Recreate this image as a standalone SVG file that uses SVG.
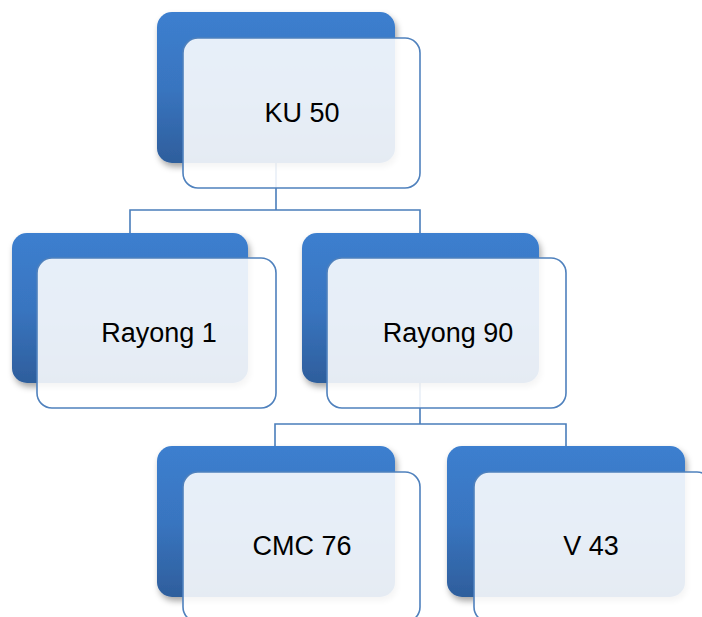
<svg xmlns="http://www.w3.org/2000/svg" width="702" height="617" viewBox="0 0 702 617">
<style>
.back{fill:url(#bg);filter:url(#sh)}
.front{fill:#ffffff;fill-opacity:0.88;stroke:#4f81bd;stroke-width:1.6}
.lbl{font-family:"Liberation Sans",Arial,sans-serif;font-size:27px;fill:#000;text-anchor:middle}
.conn{fill:none;stroke:#4a7ebb;stroke-width:1.6}
</style>
<defs>
<linearGradient id="bg" x1="0" y1="0" x2="0" y2="1">
<stop offset="0" stop-color="#3c7fcf"/>
<stop offset="0.5" stop-color="#3975c0"/>
<stop offset="1" stop-color="#2e5e9c"/>
</linearGradient>
<filter id="sh" x="-10%" y="-10%" width="125%" height="130%">
<feDropShadow dx="2" dy="4" stdDeviation="3" flood-color="#000" flood-opacity="0.35"/>
</filter>
</defs>
<g id="connectors">
<path class="conn" d="M276,163 V210 M130,233 V210 H420 V233"/>
<path class="conn" d="M420,383 V424 M275,446 V424 H566 V446"/>
</g>
<g id="node-ku50">
<rect class="back" x="157" y="12" width="238" height="151" rx="15"/>
<rect class="front" x="183" y="38" width="237" height="150" rx="15"/>
<text class="lbl" x="302" y="122">KU 50</text>
</g>
<g id="node-rayong1">
<rect class="back" x="12" y="233" width="236" height="150" rx="15"/>
<rect class="front" x="37" y="258" width="239" height="150" rx="15"/>
<text class="lbl" x="159" y="342">Rayong 1</text>
</g>
<g id="node-rayong90">
<rect class="back" x="302" y="233" width="237" height="150" rx="15"/>
<rect class="front" x="327" y="258" width="239" height="150" rx="15"/>
<text class="lbl" x="448" y="342">Rayong 90</text>
</g>
<g id="node-cmc76">
<rect class="back" x="157" y="446" width="238" height="151" rx="15"/>
<rect class="front" x="183" y="472" width="237" height="150" rx="15"/>
<text class="lbl" x="302" y="555">CMC 76</text>
</g>
<g id="node-v43">
<rect class="back" x="447" y="446" width="238" height="151" rx="15"/>
<rect class="front" x="474" y="472" width="238" height="150" rx="15"/>
<text class="lbl" x="591" y="555">V 43</text>
</g>
</svg>
